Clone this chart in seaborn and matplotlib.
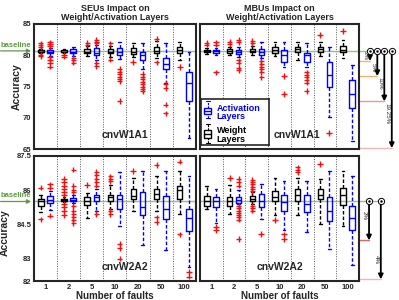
import numpy as np
import pandas as pd
import seaborn as sns
import matplotlib.pyplot as plt
import matplotlib.transforms as mtransforms
from matplotlib.patches import Rectangle

sns.set_style("white")
plt.rcParams['font.family'] = ['Liberation Sans', 'DejaVu Sans']

faults = ["1", "2", "5", "10", "20", "50", "100"]
layers = ["Weight", "Activation"]

# box stats per fault count: (whisker low, q1, median, q3, whisker high)
seu_w1a1_weight = [(80.3, 80.5, 80.6, 80.8, 81.0), (80.3, 80.5, 80.6, 80.8, 81.0),
                   (79.9, 80.3, 80.6, 81.0, 81.5), (79.7, 80.3, 80.6, 81.0, 81.5),
                   (79.7, 80.2, 80.6, 81.1, 82.0), (79.5, 80.3, 80.7, 81.3, 82.3),
                   (79.2, 80.3, 80.8, 81.3, 82.2)]
seu_w1a1_act = [(79.9, 80.3, 80.6, 80.9, 81.2), (79.9, 80.3, 80.6, 81.0, 81.4),
                (79.3, 80.0, 80.4, 81.1, 81.7), (79.4, 80.1, 80.5, 81.1, 82.1),
                (77.8, 79.2, 80.0, 80.6, 82.0), (75.6, 77.8, 78.6, 79.5, 82.0),
                (66.8, 72.7, 75.5, 77.4, 80.6)]
mbu_w1a1_weight = [(80.2, 80.5, 80.7, 80.9, 81.2), (80.1, 80.4, 80.7, 81.0, 81.4),
                   (80.1, 80.5, 80.7, 81.0, 81.5), (79.9, 80.3, 80.8, 81.3, 82.2),
                   (79.2, 80.6, 81.0, 81.4, 82.2), (79.9, 80.6, 81.0, 81.4, 82.2),
                   (79.5, 80.6, 80.9, 81.5, 82.5)]
mbu_w1a1_act = [(80.0, 80.4, 80.7, 80.9, 81.2), (79.8, 80.2, 80.6, 80.9, 81.4),
                (79.5, 80.0, 80.5, 81.0, 82.2), (78.1, 78.9, 80.0, 80.9, 82.2),
                (78.1, 78.9, 80.0, 80.4, 82.0), (70.1, 74.9, 76.9, 78.9, 81.4),
                (66.3, 71.6, 73.8, 76.0, 78.4)]
seu_w2a2_weight = [(85.04, 85.32, 85.51, 85.62, 85.80), (85.47, 85.50, 85.55, 85.62, 85.69),
                   (84.79, 85.35, 85.54, 85.69, 85.89), (85.16, 85.54, 85.68, 85.80, 86.22),
                   (85.09, 85.62, 85.74, 86.04, 86.52), (85.09, 85.62, 85.84, 86.07, 86.60),
                   (84.94, 85.62, 86.00, 86.17, 86.82)]
seu_w2a2_act = [(85.13, 85.44, 85.57, 85.74, 85.95), (85.44, 85.50, 85.57, 85.65, 85.80),
                (85.09, 85.50, 85.68, 85.80, 86.07), (84.41, 85.19, 85.59, 85.77, 86.78),
                (83.58, 84.89, 85.24, 85.92, 86.82), (83.36, 84.71, 85.16, 85.72, 86.82),
                (82.63, 84.21, 84.76, 85.19, 86.60)]
mbu_w2a2_weight = [(85.16, 85.31, 85.54, 85.74, 86.17), (84.94, 85.31, 85.51, 85.69, 86.22),
                   (85.39, 85.51, 85.62, 85.74, 85.92), (84.89, 85.50, 85.69, 85.95, 86.52),
                   (84.89, 85.50, 85.80, 86.04, 86.52), (84.49, 85.59, 85.77, 86.07, 86.49),
                   (84.44, 85.35, 85.77, 86.10, 86.82)]
mbu_w2a2_act = [(84.56, 85.27, 85.54, 85.69, 86.07), (85.39, 85.44, 85.57, 85.69, 85.99),
                (84.74, 85.24, 85.51, 85.84, 86.29), (84.26, 85.09, 85.47, 85.80, 86.40),
                (84.14, 85.04, 85.39, 85.77, 86.40), (83.43, 84.64, 85.09, 85.69, 86.82),
                (82.72, 84.26, 84.79, 85.28, 86.64)]

# outliers per fault count
seu_w1a1_weight_fl = [[81.9, 81.6, 81.3, 80.1, 79.9], [80.1, 79.8], [82.0, 81.7],
                      [81.9, 79.3], [79.0], [82.6, 78.9], [78.2]]
seu_w1a1_act_fl = [[82.1, 81.8, 81.5, 79.7, 79.3, 78.8, 78.2], [79.6, 79.2, 78.8],
                   [82.5, 82.2, 81.9, 78.8, 78.3],
                   [77.8, 77.4, 77.0, 76.6, 76.2, 75.9, 72.7],
                   [77.0, 76.6, 76.2, 75.8, 75.4, 75.0, 74.6, 74.3],
                   [75.4, 74.7, 72.1, 70.7], []]
mbu_w1a1_weight_fl = [[82.0, 81.7], [82.2, 81.8], [82.3, 81.9], [], [], [83.2], [83.9]]
mbu_w1a1_act_fl = [[82.1, 81.7, 77.3], [82.5, 82.1, 79.2, 78.8, 78.0, 77.6],
                   [79.1, 78.6, 78.2, 77.8, 77.3, 76.5], [76.7, 73.8],
                   [77.3, 76.9, 76.5, 76.1, 75.6, 74.3], [67.6], []]
seu_w2a2_weight_fl = [[86.11, 84.71],
                      [86.5, 86.35, 86.2, 86.05, 85.9, 85.8, 85.4, 85.25, 85.1, 84.9],
                      [86.22], [86.6, 86.5, 86.4, 85.1, 84.95], [86.85],
                      [87.1, 84.8, 84.6], [87.25, 84.05]]
seu_w2a2_act_fl = [[86.25, 86.1, 84.88],
                   [86.9, 86.2, 86.0, 85.9, 85.3, 85.1, 84.95, 84.8, 84.7, 84.55],
                   [86.8, 86.65, 86.5, 86.35, 86.2, 84.95], [83.65, 83.45, 82.98],
                   [], [], [82.4, 82.2]]
mbu_w2a2_weight_fl = [[], [86.55],
                      [86.45, 86.35, 86.25, 86.15, 86.05, 85.95, 85.3, 85.2, 85.1],
                      [84.7], [87.0, 86.9, 86.8], [87.15], []]
mbu_w2a2_act_fl = [[84.4, 84.25],
                   [86.5, 86.35, 86.2, 85.3, 85.2, 85.1, 85.0, 84.9, 84.8, 84.7, 83.85],
                   [84.08], [84.06, 83.84], [], [], []]

baseline_w1a1 = 80.7
baseline_w2a2 = 85.5
drops_w1a1 = [2, 5, 10, 19.25]
drops_w2a2 = [2, 4]

green = "#93c47d"
pal = {"Weight": "black", "Activation": "blue"}


def box_table(weight, act):
    rows = []
    for layer, stats in zip(layers, (weight, act)):
        for f, s in zip(faults, stats):
            for v in s:
                rows.append((f, layer, v))
    return pd.DataFrame(rows, columns=["faults", "layer", "acc"])


def draw_panel(ax, weight, act, weight_fl, act_fl, base, name):
    sns.boxplot(data=box_table(weight, act), x="faults", y="acc", hue="layer",
                order=faults, hue_order=layers, palette=pal, saturation=1,
                fill=False, whis=(0, 100), showfliers=False, width=0.8, gap=0.4,
                linewidth=1.0, whiskerprops={"linestyle": (0, (2.5, 1.5))},
                legend=False, ax=ax)
    sns.stripplot(data=box_table(weight_fl, act_fl), x="faults", y="acc", hue="layer",
                  order=faults, hue_order=layers, palette={"Weight": "#f01010", "Activation": "#f01010"},
                  dodge=True, jitter=False, marker="+", size=3.8, linewidth=1.0,
                  legend=False, ax=ax)
    for k in range(len(faults) - 1):
        ax.axvline(k + 0.5, color="0.35", ls=(0, (1, 1.5)), lw=0.7, zorder=0)
    ax.axhline(base, color=green, lw=1, zorder=0)
    ax.set_xlim(-0.5, 6.5)
    ax.set_xlabel("")
    ax.set_ylabel("")
    for s in ax.spines.values():
        s.set_linewidth(1.5)
    ax.tick_params(direction="in", length=2.5, width=0.6, labelsize=5.5, pad=2)
    for lab in ax.get_xticklabels() + ax.get_yticklabels():
        lab.set_fontweight("bold")
    ax.text(0.56, 0.07, name, transform=ax.transAxes, ha="center", va="bottom",
            fontsize=7.5, fontweight="bold")


fig = plt.figure(figsize=(3.99, 3.0), dpi=100)
ax_tl = fig.add_axes([0.085, 0.503, 0.406, 0.417])
ax_tr = fig.add_axes([0.5013, 0.503, 0.3985, 0.417])
ax_bl = fig.add_axes([0.085, 0.063, 0.406, 0.417])
ax_br = fig.add_axes([0.5013, 0.063, 0.3985, 0.417])

draw_panel(ax_tl, seu_w1a1_weight, seu_w1a1_act, seu_w1a1_weight_fl, seu_w1a1_act_fl,
           baseline_w1a1, "cnvW1A1")
draw_panel(ax_tr, mbu_w1a1_weight, mbu_w1a1_act, mbu_w1a1_weight_fl, mbu_w1a1_act_fl,
           baseline_w1a1, "cnvW1A1")
draw_panel(ax_bl, seu_w2a2_weight, seu_w2a2_act, seu_w2a2_weight_fl, seu_w2a2_act_fl,
           baseline_w2a2, "cnvW2A2")
draw_panel(ax_br, mbu_w2a2_weight, mbu_w2a2_act, mbu_w2a2_weight_fl, mbu_w2a2_act_fl,
           baseline_w2a2, "cnvW2A2")
ax_tr.texts[-1].set_x(0.61)
ax_br.texts[-1].set_x(0.5)

for ax in (ax_tl, ax_tr):
    ax.set_ylim(65, 85)
    ax.set_yticks([65, 70, 75, 80, 85])
    ax.set_xticklabels([])
for ax in (ax_bl, ax_br):
    ax.set_ylim(82, 87.5)
    ax.set_yticks([82, 83, 84.5, 86, 87.5])
    ax.set_xticklabels(faults, fontweight="bold")
    ax.set_xlabel("Number of faults", fontsize=7, fontweight="bold", labelpad=0)
ax_bl.set_yticklabels(["82", "83", "84.5", "86", "87.5"], fontweight="bold")
ax_tl.set_yticklabels(["65", "70", "75", "80", "85"], fontweight="bold")
for ax in (ax_tr, ax_br):
    ax.set_yticklabels([])
for ax in (ax_tl, ax_bl):
    ax.set_ylabel("Accuracy", fontsize=7.5, fontweight="bold", labelpad=1)
ax_bl.yaxis.set_label_coords(-0.15, 0.39)

ax_tl.set_title("SEUs Impact on\nWeight/Activation Layers", fontsize=6.5,
                fontweight="bold", pad=3, linespacing=1.0)
ax_tr.set_title("MBUs Impact on\nWeight/Activation Layers", fontsize=6.5,
                fontweight="bold", pad=3, linespacing=1.0)

# baseline labels on the left
for ax, base in ((ax_tl, baseline_w1a1), (ax_bl, baseline_w2a2)):
    tr = mtransforms.blended_transform_factory(ax.transAxes, ax.transData)
    ax.annotate("", xy=(0, base), xycoords=tr, xytext=(-26, 0), textcoords="offset points",
                arrowprops=dict(arrowstyle="-|>", color="#5e9a43", lw=0.9, mutation_scale=6),
                annotation_clip=False)
    ax.annotate("baseline", xy=(0, base), xycoords=tr, xytext=(-13, 4),
                textcoords="offset points", ha="center", va="center", fontsize=5.5,
                fontweight="bold", color="#5e9a43", annotation_clip=False)

# degradation arrows on the right
line_colors_w1a1 = ["#f6b26b", "#f6b26b", "#ea9999", "#f4b6b6"]
line_colors_w2a2 = ["#e06666", "#f4b6b6"]
arrow_x_w1a1 = [1.069, 1.115, 1.159, 1.206]
arrow_x_w2a2 = [1.063, 1.137]
label_pos_w1a1 = [0.5, 0.65, 0.65, 0.65]
label_pos_w2a2 = [0.35, 0.75]
for ax, base, drops, xs, cols, lpos in (
        (ax_tr, baseline_w1a1, drops_w1a1, arrow_x_w1a1, line_colors_w1a1, label_pos_w1a1),
        (ax_br, baseline_w2a2, drops_w2a2, arrow_x_w2a2, line_colors_w2a2, label_pos_w2a2)):
    tr = mtransforms.blended_transform_factory(ax.transAxes, ax.transData)
    ax.plot([1.0, xs[-1]], [base, base], color=green, lw=1, transform=tr, clip_on=False)
    for d, x, c, lp in zip(drops, xs, cols, lpos):
        target = base * (1 - d / 100)
        ax.plot([1.0, x], [target, target], color=c, lw=1, transform=tr, clip_on=False)
        ax.annotate("", xy=(x, target), xycoords=tr, xytext=(x, base), textcoords=tr,
                    arrowprops=dict(arrowstyle="-|>", color="black", lw=1.3,
                                    mutation_scale=7, shrinkA=2, shrinkB=0),
                    annotation_clip=False)
        ax.plot([x], [base], marker="o", ms=4.5, mfc="white", mec="black", mew=0.7,
                transform=tr, clip_on=False, zorder=5)
        ax.plot([x], [base], marker=".", ms=1.5, color="black", transform=tr,
                clip_on=False, zorder=6)
        ax.text(x - 0.028, base - lp * (base - target), f"{d}%", transform=tr,
                rotation=-90, ha="center", va="center", fontsize=4.5)

# legend box in the upper right panel
lax = ax_tr.inset_axes([0.006, 0.03, 0.43, 0.37])
lax.set_xlim(0, 1)
lax.set_ylim(0, 1)
lax.set_xticks([])
lax.set_yticks([])
lax.set_facecolor("white")
lax.set_zorder(10)
for s in lax.spines.values():
    s.set_linewidth(1.2)


def legend_icon(x, lo, b0, b1, hi, color):
    lax.add_patch(Rectangle((x - 0.05, b0), 0.1, b1 - b0, fill=False, ec=color, lw=1))
    lax.plot([x - 0.05, x + 0.05], [(b0 + b1) / 2] * 2, color=color, lw=1)
    lax.plot([x, x], [lo, b0], color=color, lw=0.8, ls=(0, (2, 1)))
    lax.plot([x, x], [b1, hi], color=color, lw=0.8, ls=(0, (2, 1)))
    lax.plot([x - 0.03, x + 0.03], [lo, lo], color=color, lw=0.8)
    lax.plot([x - 0.03, x + 0.03], [hi, hi], color=color, lw=0.8)


legend_icon(0.1, 0.59, 0.67, 0.81, 0.96, "blue")
legend_icon(0.1, 0.04, 0.15, 0.33, 0.46, "black")
lax.text(0.23, 0.71, "Activation\nLayers", color="blue", fontsize=6.5, fontweight="bold",
         va="center", ha="left", linespacing=0.95)
lax.text(0.23, 0.23, "Weight\nLayers", color="black", fontsize=6.5, fontweight="bold",
         va="center", ha="left", linespacing=0.95)

fig.savefig("out.png", dpi=100)
